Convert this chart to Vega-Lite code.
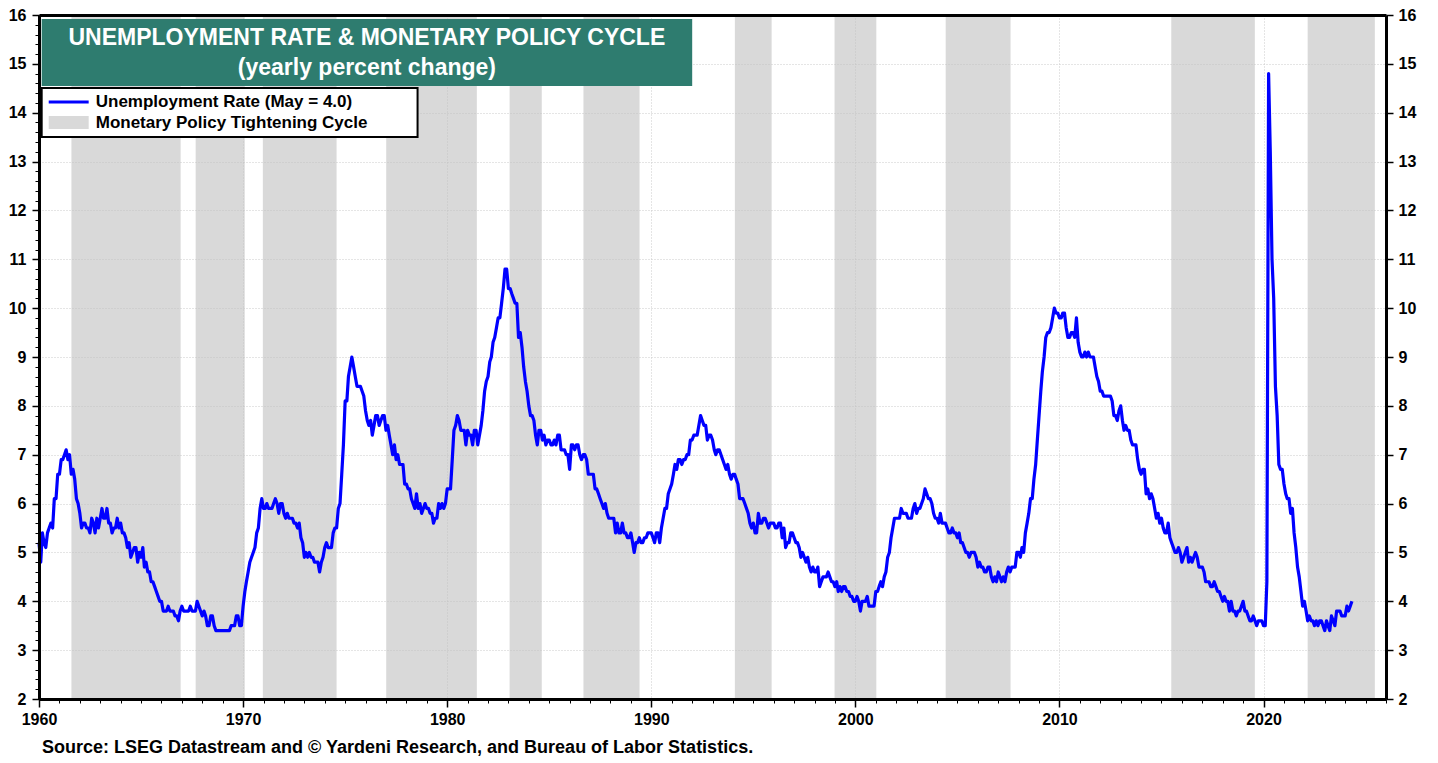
{
  "$schema": "https://vega.github.io/schema/vega-lite/v6.json",
  "width": 1347,
  "height": 684,
  "autosize": {"type": "none"},
  "padding": {"left": 39, "top": 15, "right": 52, "bottom": 64},
  "background": "white",
  "title": {"text": "Source: LSEG Datastream and © Yardeni Research, and Bureau of Labor Statistics.", "orient": "bottom", "anchor": "start", "frame": "group", "font": "Liberation Sans", "fontSize": 18, "fontWeight": "bold", "color": "black", "offset": 12, "dx": 3},
  "config": {
    "view": {"stroke": null},
    "axis": {"labelFont": "Liberation Sans", "labelFontSize": 16, "labelFontWeight": "bold", "labelColor": "black", "tickColor": "black", "domainColor": "black", "domainWidth": 3, "title": null, "gridColor": "#cacaca", "gridDash": [1, 2], "gridWidth": 1}
  },
  "datasets": {
    "cycles": [
      {"start": "1961-08-03", "end": "1966-12-10"},
      {"start": "1967-09-05", "end": "1970-01-30"},
      {"start": "1970-12-20", "end": "1974-08-01"},
      {"start": "1977-01-05", "end": "1981-06-15"},
      {"start": "1983-01-22", "end": "1984-08-20"},
      {"start": "1986-09-05", "end": "1989-06-05"},
      {"start": "1994-02-05", "end": "1995-11-25"},
      {"start": "1998-12-25", "end": "2001-01-10"},
      {"start": "2004-06-05", "end": "2007-08-10"},
      {"start": "2015-06-25", "end": "2019-07-30"},
      {"start": "2022-03-01", "end": "2025-06-15"}
    ],
    "unrate": [
{"date":"1960-01","rate":5.2},{"date":"1960-02","rate":4.8},{"date":"1960-03","rate":5.4},{"date":"1960-04","rate":5.2},{"date":"1960-05","rate":5.1},{"date":"1960-06","rate":5.4},{"date":"1960-07","rate":5.5},{"date":"1960-08","rate":5.6},{"date":"1960-09","rate":5.5},{"date":"1960-10","rate":6.1},{"date":"1960-11","rate":6.1},{"date":"1960-12","rate":6.6},
{"date":"1961-01","rate":6.6},{"date":"1961-02","rate":6.9},{"date":"1961-03","rate":6.9},{"date":"1961-04","rate":7.0},{"date":"1961-05","rate":7.1},{"date":"1961-06","rate":6.9},{"date":"1961-07","rate":7.0},{"date":"1961-08","rate":6.6},{"date":"1961-09","rate":6.7},{"date":"1961-10","rate":6.5},{"date":"1961-11","rate":6.1},{"date":"1961-12","rate":6.0},
{"date":"1962-01","rate":5.8},{"date":"1962-02","rate":5.5},{"date":"1962-03","rate":5.6},{"date":"1962-04","rate":5.6},{"date":"1962-05","rate":5.5},{"date":"1962-06","rate":5.5},{"date":"1962-07","rate":5.4},{"date":"1962-08","rate":5.7},{"date":"1962-09","rate":5.6},{"date":"1962-10","rate":5.4},{"date":"1962-11","rate":5.7},{"date":"1962-12","rate":5.5},
{"date":"1963-01","rate":5.7},{"date":"1963-02","rate":5.9},{"date":"1963-03","rate":5.7},{"date":"1963-04","rate":5.7},{"date":"1963-05","rate":5.9},{"date":"1963-06","rate":5.6},{"date":"1963-07","rate":5.6},{"date":"1963-08","rate":5.4},{"date":"1963-09","rate":5.5},{"date":"1963-10","rate":5.5},{"date":"1963-11","rate":5.7},{"date":"1963-12","rate":5.5},
{"date":"1964-01","rate":5.6},{"date":"1964-02","rate":5.4},{"date":"1964-03","rate":5.4},{"date":"1964-04","rate":5.3},{"date":"1964-05","rate":5.1},{"date":"1964-06","rate":5.2},{"date":"1964-07","rate":4.9},{"date":"1964-08","rate":5.0},{"date":"1964-09","rate":5.1},{"date":"1964-10","rate":5.1},{"date":"1964-11","rate":4.8},{"date":"1964-12","rate":5.0},
{"date":"1965-01","rate":4.9},{"date":"1965-02","rate":5.1},{"date":"1965-03","rate":4.7},{"date":"1965-04","rate":4.8},{"date":"1965-05","rate":4.6},{"date":"1965-06","rate":4.6},{"date":"1965-07","rate":4.4},{"date":"1965-08","rate":4.4},{"date":"1965-09","rate":4.3},{"date":"1965-10","rate":4.2},{"date":"1965-11","rate":4.1},{"date":"1965-12","rate":4.0},
{"date":"1966-01","rate":4.0},{"date":"1966-02","rate":3.8},{"date":"1966-03","rate":3.8},{"date":"1966-04","rate":3.8},{"date":"1966-05","rate":3.9},{"date":"1966-06","rate":3.8},{"date":"1966-07","rate":3.8},{"date":"1966-08","rate":3.8},{"date":"1966-09","rate":3.7},{"date":"1966-10","rate":3.7},{"date":"1966-11","rate":3.6},{"date":"1966-12","rate":3.8},
{"date":"1967-01","rate":3.9},{"date":"1967-02","rate":3.8},{"date":"1967-03","rate":3.8},{"date":"1967-04","rate":3.8},{"date":"1967-05","rate":3.8},{"date":"1967-06","rate":3.9},{"date":"1967-07","rate":3.8},{"date":"1967-08","rate":3.8},{"date":"1967-09","rate":3.8},{"date":"1967-10","rate":4.0},{"date":"1967-11","rate":3.9},{"date":"1967-12","rate":3.8},
{"date":"1968-01","rate":3.7},{"date":"1968-02","rate":3.8},{"date":"1968-03","rate":3.7},{"date":"1968-04","rate":3.5},{"date":"1968-05","rate":3.5},{"date":"1968-06","rate":3.7},{"date":"1968-07","rate":3.7},{"date":"1968-08","rate":3.5},{"date":"1968-09","rate":3.4},{"date":"1968-10","rate":3.4},{"date":"1968-11","rate":3.4},{"date":"1968-12","rate":3.4},
{"date":"1969-01","rate":3.4},{"date":"1969-02","rate":3.4},{"date":"1969-03","rate":3.4},{"date":"1969-04","rate":3.4},{"date":"1969-05","rate":3.4},{"date":"1969-06","rate":3.5},{"date":"1969-07","rate":3.5},{"date":"1969-08","rate":3.5},{"date":"1969-09","rate":3.7},{"date":"1969-10","rate":3.7},{"date":"1969-11","rate":3.5},{"date":"1969-12","rate":3.5},
{"date":"1970-01","rate":3.9},{"date":"1970-02","rate":4.2},{"date":"1970-03","rate":4.4},{"date":"1970-04","rate":4.6},{"date":"1970-05","rate":4.8},{"date":"1970-06","rate":4.9},{"date":"1970-07","rate":5.0},{"date":"1970-08","rate":5.1},{"date":"1970-09","rate":5.4},{"date":"1970-10","rate":5.5},{"date":"1970-11","rate":5.9},{"date":"1970-12","rate":6.1},
{"date":"1971-01","rate":5.9},{"date":"1971-02","rate":5.9},{"date":"1971-03","rate":6.0},{"date":"1971-04","rate":5.9},{"date":"1971-05","rate":5.9},{"date":"1971-06","rate":5.9},{"date":"1971-07","rate":6.0},{"date":"1971-08","rate":6.1},{"date":"1971-09","rate":6.0},{"date":"1971-10","rate":5.8},{"date":"1971-11","rate":6.0},{"date":"1971-12","rate":6.0},
{"date":"1972-01","rate":5.8},{"date":"1972-02","rate":5.7},{"date":"1972-03","rate":5.8},{"date":"1972-04","rate":5.7},{"date":"1972-05","rate":5.7},{"date":"1972-06","rate":5.7},{"date":"1972-07","rate":5.6},{"date":"1972-08","rate":5.6},{"date":"1972-09","rate":5.5},{"date":"1972-10","rate":5.6},{"date":"1972-11","rate":5.3},{"date":"1972-12","rate":5.2},
{"date":"1973-01","rate":4.9},{"date":"1973-02","rate":5.0},{"date":"1973-03","rate":4.9},{"date":"1973-04","rate":5.0},{"date":"1973-05","rate":4.9},{"date":"1973-06","rate":4.9},{"date":"1973-07","rate":4.8},{"date":"1973-08","rate":4.8},{"date":"1973-09","rate":4.8},{"date":"1973-10","rate":4.6},{"date":"1973-11","rate":4.8},{"date":"1973-12","rate":4.9},
{"date":"1974-01","rate":5.1},{"date":"1974-02","rate":5.2},{"date":"1974-03","rate":5.1},{"date":"1974-04","rate":5.1},{"date":"1974-05","rate":5.1},{"date":"1974-06","rate":5.4},{"date":"1974-07","rate":5.5},{"date":"1974-08","rate":5.5},{"date":"1974-09","rate":5.9},{"date":"1974-10","rate":6.0},{"date":"1974-11","rate":6.6},{"date":"1974-12","rate":7.2},
{"date":"1975-01","rate":8.1},{"date":"1975-02","rate":8.1},{"date":"1975-03","rate":8.6},{"date":"1975-04","rate":8.8},{"date":"1975-05","rate":9.0},{"date":"1975-06","rate":8.8},{"date":"1975-07","rate":8.6},{"date":"1975-08","rate":8.4},{"date":"1975-09","rate":8.4},{"date":"1975-10","rate":8.4},{"date":"1975-11","rate":8.3},{"date":"1975-12","rate":8.2},
{"date":"1976-01","rate":7.9},{"date":"1976-02","rate":7.7},{"date":"1976-03","rate":7.6},{"date":"1976-04","rate":7.7},{"date":"1976-05","rate":7.4},{"date":"1976-06","rate":7.6},{"date":"1976-07","rate":7.8},{"date":"1976-08","rate":7.8},{"date":"1976-09","rate":7.6},{"date":"1976-10","rate":7.7},{"date":"1976-11","rate":7.8},{"date":"1976-12","rate":7.8},
{"date":"1977-01","rate":7.5},{"date":"1977-02","rate":7.6},{"date":"1977-03","rate":7.4},{"date":"1977-04","rate":7.2},{"date":"1977-05","rate":7.0},{"date":"1977-06","rate":7.2},{"date":"1977-07","rate":6.9},{"date":"1977-08","rate":7.0},{"date":"1977-09","rate":6.8},{"date":"1977-10","rate":6.8},{"date":"1977-11","rate":6.8},{"date":"1977-12","rate":6.4},
{"date":"1978-01","rate":6.4},{"date":"1978-02","rate":6.3},{"date":"1978-03","rate":6.3},{"date":"1978-04","rate":6.1},{"date":"1978-05","rate":6.0},{"date":"1978-06","rate":5.9},{"date":"1978-07","rate":6.2},{"date":"1978-08","rate":5.9},{"date":"1978-09","rate":6.0},{"date":"1978-10","rate":5.8},{"date":"1978-11","rate":5.9},{"date":"1978-12","rate":6.0},
{"date":"1979-01","rate":5.9},{"date":"1979-02","rate":5.9},{"date":"1979-03","rate":5.8},{"date":"1979-04","rate":5.8},{"date":"1979-05","rate":5.6},{"date":"1979-06","rate":5.7},{"date":"1979-07","rate":5.7},{"date":"1979-08","rate":6.0},{"date":"1979-09","rate":5.9},{"date":"1979-10","rate":6.0},{"date":"1979-11","rate":5.9},{"date":"1979-12","rate":6.0},
{"date":"1980-01","rate":6.3},{"date":"1980-02","rate":6.3},{"date":"1980-03","rate":6.3},{"date":"1980-04","rate":6.9},{"date":"1980-05","rate":7.5},{"date":"1980-06","rate":7.6},{"date":"1980-07","rate":7.8},{"date":"1980-08","rate":7.7},{"date":"1980-09","rate":7.5},{"date":"1980-10","rate":7.5},{"date":"1980-11","rate":7.5},{"date":"1980-12","rate":7.2},
{"date":"1981-01","rate":7.5},{"date":"1981-02","rate":7.4},{"date":"1981-03","rate":7.4},{"date":"1981-04","rate":7.2},{"date":"1981-05","rate":7.5},{"date":"1981-06","rate":7.5},{"date":"1981-07","rate":7.2},{"date":"1981-08","rate":7.4},{"date":"1981-09","rate":7.6},{"date":"1981-10","rate":7.9},{"date":"1981-11","rate":8.3},{"date":"1981-12","rate":8.5},
{"date":"1982-01","rate":8.6},{"date":"1982-02","rate":8.9},{"date":"1982-03","rate":9.0},{"date":"1982-04","rate":9.3},{"date":"1982-05","rate":9.4},{"date":"1982-06","rate":9.6},{"date":"1982-07","rate":9.8},{"date":"1982-08","rate":9.8},{"date":"1982-09","rate":10.1},{"date":"1982-10","rate":10.4},{"date":"1982-11","rate":10.8},{"date":"1982-12","rate":10.8},
{"date":"1983-01","rate":10.4},{"date":"1983-02","rate":10.4},{"date":"1983-03","rate":10.3},{"date":"1983-04","rate":10.2},{"date":"1983-05","rate":10.1},{"date":"1983-06","rate":10.1},{"date":"1983-07","rate":9.4},{"date":"1983-08","rate":9.5},{"date":"1983-09","rate":9.2},{"date":"1983-10","rate":8.8},{"date":"1983-11","rate":8.5},{"date":"1983-12","rate":8.3},
{"date":"1984-01","rate":8.0},{"date":"1984-02","rate":7.8},{"date":"1984-03","rate":7.8},{"date":"1984-04","rate":7.7},{"date":"1984-05","rate":7.4},{"date":"1984-06","rate":7.2},{"date":"1984-07","rate":7.5},{"date":"1984-08","rate":7.5},{"date":"1984-09","rate":7.3},{"date":"1984-10","rate":7.4},{"date":"1984-11","rate":7.2},{"date":"1984-12","rate":7.3},
{"date":"1985-01","rate":7.3},{"date":"1985-02","rate":7.2},{"date":"1985-03","rate":7.2},{"date":"1985-04","rate":7.3},{"date":"1985-05","rate":7.2},{"date":"1985-06","rate":7.4},{"date":"1985-07","rate":7.4},{"date":"1985-08","rate":7.1},{"date":"1985-09","rate":7.1},{"date":"1985-10","rate":7.1},{"date":"1985-11","rate":7.0},{"date":"1985-12","rate":7.0},
{"date":"1986-01","rate":6.7},{"date":"1986-02","rate":7.2},{"date":"1986-03","rate":7.2},{"date":"1986-04","rate":7.1},{"date":"1986-05","rate":7.2},{"date":"1986-06","rate":7.2},{"date":"1986-07","rate":7.0},{"date":"1986-08","rate":6.9},{"date":"1986-09","rate":7.0},{"date":"1986-10","rate":7.0},{"date":"1986-11","rate":6.9},{"date":"1986-12","rate":6.6},
{"date":"1987-01","rate":6.6},{"date":"1987-02","rate":6.6},{"date":"1987-03","rate":6.6},{"date":"1987-04","rate":6.3},{"date":"1987-05","rate":6.3},{"date":"1987-06","rate":6.2},{"date":"1987-07","rate":6.1},{"date":"1987-08","rate":6.0},{"date":"1987-09","rate":5.9},{"date":"1987-10","rate":6.0},{"date":"1987-11","rate":5.8},{"date":"1987-12","rate":5.7},
{"date":"1988-01","rate":5.7},{"date":"1988-02","rate":5.7},{"date":"1988-03","rate":5.7},{"date":"1988-04","rate":5.4},{"date":"1988-05","rate":5.6},{"date":"1988-06","rate":5.4},{"date":"1988-07","rate":5.4},{"date":"1988-08","rate":5.6},{"date":"1988-09","rate":5.4},{"date":"1988-10","rate":5.4},{"date":"1988-11","rate":5.3},{"date":"1988-12","rate":5.3},
{"date":"1989-01","rate":5.4},{"date":"1989-02","rate":5.2},{"date":"1989-03","rate":5.0},{"date":"1989-04","rate":5.2},{"date":"1989-05","rate":5.2},{"date":"1989-06","rate":5.3},{"date":"1989-07","rate":5.2},{"date":"1989-08","rate":5.2},{"date":"1989-09","rate":5.3},{"date":"1989-10","rate":5.3},{"date":"1989-11","rate":5.4},{"date":"1989-12","rate":5.4},
{"date":"1990-01","rate":5.4},{"date":"1990-02","rate":5.3},{"date":"1990-03","rate":5.2},{"date":"1990-04","rate":5.4},{"date":"1990-05","rate":5.4},{"date":"1990-06","rate":5.2},{"date":"1990-07","rate":5.5},{"date":"1990-08","rate":5.7},{"date":"1990-09","rate":5.9},{"date":"1990-10","rate":5.9},{"date":"1990-11","rate":6.2},{"date":"1990-12","rate":6.3},
{"date":"1991-01","rate":6.4},{"date":"1991-02","rate":6.6},{"date":"1991-03","rate":6.8},{"date":"1991-04","rate":6.7},{"date":"1991-05","rate":6.9},{"date":"1991-06","rate":6.9},{"date":"1991-07","rate":6.8},{"date":"1991-08","rate":6.9},{"date":"1991-09","rate":6.9},{"date":"1991-10","rate":7.0},{"date":"1991-11","rate":7.0},{"date":"1991-12","rate":7.3},
{"date":"1992-01","rate":7.3},{"date":"1992-02","rate":7.4},{"date":"1992-03","rate":7.4},{"date":"1992-04","rate":7.4},{"date":"1992-05","rate":7.6},{"date":"1992-06","rate":7.8},{"date":"1992-07","rate":7.7},{"date":"1992-08","rate":7.6},{"date":"1992-09","rate":7.6},{"date":"1992-10","rate":7.3},{"date":"1992-11","rate":7.4},{"date":"1992-12","rate":7.4},
{"date":"1993-01","rate":7.3},{"date":"1993-02","rate":7.1},{"date":"1993-03","rate":7.0},{"date":"1993-04","rate":7.1},{"date":"1993-05","rate":7.1},{"date":"1993-06","rate":7.0},{"date":"1993-07","rate":6.9},{"date":"1993-08","rate":6.8},{"date":"1993-09","rate":6.7},{"date":"1993-10","rate":6.8},{"date":"1993-11","rate":6.6},{"date":"1993-12","rate":6.5},
{"date":"1994-01","rate":6.6},{"date":"1994-02","rate":6.6},{"date":"1994-03","rate":6.5},{"date":"1994-04","rate":6.4},{"date":"1994-05","rate":6.1},{"date":"1994-06","rate":6.1},{"date":"1994-07","rate":6.1},{"date":"1994-08","rate":6.0},{"date":"1994-09","rate":5.9},{"date":"1994-10","rate":5.8},{"date":"1994-11","rate":5.6},{"date":"1994-12","rate":5.5},
{"date":"1995-01","rate":5.6},{"date":"1995-02","rate":5.4},{"date":"1995-03","rate":5.4},{"date":"1995-04","rate":5.8},{"date":"1995-05","rate":5.6},{"date":"1995-06","rate":5.6},{"date":"1995-07","rate":5.7},{"date":"1995-08","rate":5.7},{"date":"1995-09","rate":5.6},{"date":"1995-10","rate":5.5},{"date":"1995-11","rate":5.6},{"date":"1995-12","rate":5.6},
{"date":"1996-01","rate":5.6},{"date":"1996-02","rate":5.5},{"date":"1996-03","rate":5.5},{"date":"1996-04","rate":5.6},{"date":"1996-05","rate":5.6},{"date":"1996-06","rate":5.3},{"date":"1996-07","rate":5.5},{"date":"1996-08","rate":5.1},{"date":"1996-09","rate":5.2},{"date":"1996-10","rate":5.2},{"date":"1996-11","rate":5.4},{"date":"1996-12","rate":5.4},
{"date":"1997-01","rate":5.3},{"date":"1997-02","rate":5.2},{"date":"1997-03","rate":5.2},{"date":"1997-04","rate":5.1},{"date":"1997-05","rate":4.9},{"date":"1997-06","rate":5.0},{"date":"1997-07","rate":4.9},{"date":"1997-08","rate":4.8},{"date":"1997-09","rate":4.9},{"date":"1997-10","rate":4.7},{"date":"1997-11","rate":4.6},{"date":"1997-12","rate":4.7},
{"date":"1998-01","rate":4.6},{"date":"1998-02","rate":4.6},{"date":"1998-03","rate":4.7},{"date":"1998-04","rate":4.3},{"date":"1998-05","rate":4.4},{"date":"1998-06","rate":4.5},{"date":"1998-07","rate":4.5},{"date":"1998-08","rate":4.5},{"date":"1998-09","rate":4.6},{"date":"1998-10","rate":4.5},{"date":"1998-11","rate":4.4},{"date":"1998-12","rate":4.4},
{"date":"1999-01","rate":4.3},{"date":"1999-02","rate":4.4},{"date":"1999-03","rate":4.2},{"date":"1999-04","rate":4.3},{"date":"1999-05","rate":4.2},{"date":"1999-06","rate":4.3},{"date":"1999-07","rate":4.3},{"date":"1999-08","rate":4.2},{"date":"1999-09","rate":4.2},{"date":"1999-10","rate":4.1},{"date":"1999-11","rate":4.1},{"date":"1999-12","rate":4.0},
{"date":"2000-01","rate":4.0},{"date":"2000-02","rate":4.1},{"date":"2000-03","rate":4.0},{"date":"2000-04","rate":3.8},{"date":"2000-05","rate":4.0},{"date":"2000-06","rate":4.0},{"date":"2000-07","rate":4.0},{"date":"2000-08","rate":4.1},{"date":"2000-09","rate":3.9},{"date":"2000-10","rate":3.9},{"date":"2000-11","rate":3.9},{"date":"2000-12","rate":3.9},
{"date":"2001-01","rate":4.2},{"date":"2001-02","rate":4.2},{"date":"2001-03","rate":4.3},{"date":"2001-04","rate":4.4},{"date":"2001-05","rate":4.3},{"date":"2001-06","rate":4.5},{"date":"2001-07","rate":4.6},{"date":"2001-08","rate":4.9},{"date":"2001-09","rate":5.0},{"date":"2001-10","rate":5.3},{"date":"2001-11","rate":5.5},{"date":"2001-12","rate":5.7},
{"date":"2002-01","rate":5.7},{"date":"2002-02","rate":5.7},{"date":"2002-03","rate":5.7},{"date":"2002-04","rate":5.9},{"date":"2002-05","rate":5.8},{"date":"2002-06","rate":5.8},{"date":"2002-07","rate":5.8},{"date":"2002-08","rate":5.7},{"date":"2002-09","rate":5.7},{"date":"2002-10","rate":5.7},{"date":"2002-11","rate":5.9},{"date":"2002-12","rate":6.0},
{"date":"2003-01","rate":5.8},{"date":"2003-02","rate":5.9},{"date":"2003-03","rate":5.9},{"date":"2003-04","rate":6.0},{"date":"2003-05","rate":6.1},{"date":"2003-06","rate":6.3},{"date":"2003-07","rate":6.2},{"date":"2003-08","rate":6.1},{"date":"2003-09","rate":6.1},{"date":"2003-10","rate":6.0},{"date":"2003-11","rate":5.8},{"date":"2003-12","rate":5.7},
{"date":"2004-01","rate":5.7},{"date":"2004-02","rate":5.6},{"date":"2004-03","rate":5.8},{"date":"2004-04","rate":5.6},{"date":"2004-05","rate":5.6},{"date":"2004-06","rate":5.6},{"date":"2004-07","rate":5.5},{"date":"2004-08","rate":5.4},{"date":"2004-09","rate":5.4},{"date":"2004-10","rate":5.5},{"date":"2004-11","rate":5.4},{"date":"2004-12","rate":5.4},
{"date":"2005-01","rate":5.3},{"date":"2005-02","rate":5.4},{"date":"2005-03","rate":5.2},{"date":"2005-04","rate":5.2},{"date":"2005-05","rate":5.1},{"date":"2005-06","rate":5.0},{"date":"2005-07","rate":5.0},{"date":"2005-08","rate":4.9},{"date":"2005-09","rate":5.0},{"date":"2005-10","rate":5.0},{"date":"2005-11","rate":5.0},{"date":"2005-12","rate":4.9},
{"date":"2006-01","rate":4.7},{"date":"2006-02","rate":4.8},{"date":"2006-03","rate":4.7},{"date":"2006-04","rate":4.7},{"date":"2006-05","rate":4.6},{"date":"2006-06","rate":4.6},{"date":"2006-07","rate":4.7},{"date":"2006-08","rate":4.7},{"date":"2006-09","rate":4.5},{"date":"2006-10","rate":4.4},{"date":"2006-11","rate":4.5},{"date":"2006-12","rate":4.4},
{"date":"2007-01","rate":4.6},{"date":"2007-02","rate":4.5},{"date":"2007-03","rate":4.4},{"date":"2007-04","rate":4.5},{"date":"2007-05","rate":4.4},{"date":"2007-06","rate":4.6},{"date":"2007-07","rate":4.7},{"date":"2007-08","rate":4.6},{"date":"2007-09","rate":4.7},{"date":"2007-10","rate":4.7},{"date":"2007-11","rate":4.7},{"date":"2007-12","rate":5.0},
{"date":"2008-01","rate":5.0},{"date":"2008-02","rate":4.9},{"date":"2008-03","rate":5.1},{"date":"2008-04","rate":5.0},{"date":"2008-05","rate":5.4},{"date":"2008-06","rate":5.6},{"date":"2008-07","rate":5.8},{"date":"2008-08","rate":6.1},{"date":"2008-09","rate":6.1},{"date":"2008-10","rate":6.5},{"date":"2008-11","rate":6.8},{"date":"2008-12","rate":7.3},
{"date":"2009-01","rate":7.8},{"date":"2009-02","rate":8.3},{"date":"2009-03","rate":8.7},{"date":"2009-04","rate":9.0},{"date":"2009-05","rate":9.4},{"date":"2009-06","rate":9.5},{"date":"2009-07","rate":9.5},{"date":"2009-08","rate":9.6},{"date":"2009-09","rate":9.8},{"date":"2009-10","rate":10.0},{"date":"2009-11","rate":9.9},{"date":"2009-12","rate":9.9},
{"date":"2010-01","rate":9.8},{"date":"2010-02","rate":9.8},{"date":"2010-03","rate":9.9},{"date":"2010-04","rate":9.9},{"date":"2010-05","rate":9.6},{"date":"2010-06","rate":9.4},{"date":"2010-07","rate":9.4},{"date":"2010-08","rate":9.5},{"date":"2010-09","rate":9.5},{"date":"2010-10","rate":9.4},{"date":"2010-11","rate":9.8},{"date":"2010-12","rate":9.3},
{"date":"2011-01","rate":9.1},{"date":"2011-02","rate":9.0},{"date":"2011-03","rate":9.0},{"date":"2011-04","rate":9.1},{"date":"2011-05","rate":9.0},{"date":"2011-06","rate":9.1},{"date":"2011-07","rate":9.0},{"date":"2011-08","rate":9.0},{"date":"2011-09","rate":9.0},{"date":"2011-10","rate":8.8},{"date":"2011-11","rate":8.6},{"date":"2011-12","rate":8.5},
{"date":"2012-01","rate":8.3},{"date":"2012-02","rate":8.3},{"date":"2012-03","rate":8.2},{"date":"2012-04","rate":8.2},{"date":"2012-05","rate":8.2},{"date":"2012-06","rate":8.2},{"date":"2012-07","rate":8.2},{"date":"2012-08","rate":8.1},{"date":"2012-09","rate":7.8},{"date":"2012-10","rate":7.8},{"date":"2012-11","rate":7.7},{"date":"2012-12","rate":7.9},
{"date":"2013-01","rate":8.0},{"date":"2013-02","rate":7.7},{"date":"2013-03","rate":7.5},{"date":"2013-04","rate":7.6},{"date":"2013-05","rate":7.5},{"date":"2013-06","rate":7.5},{"date":"2013-07","rate":7.3},{"date":"2013-08","rate":7.2},{"date":"2013-09","rate":7.2},{"date":"2013-10","rate":7.2},{"date":"2013-11","rate":6.9},{"date":"2013-12","rate":6.7},
{"date":"2014-01","rate":6.6},{"date":"2014-02","rate":6.7},{"date":"2014-03","rate":6.7},{"date":"2014-04","rate":6.2},{"date":"2014-05","rate":6.3},{"date":"2014-06","rate":6.1},{"date":"2014-07","rate":6.2},{"date":"2014-08","rate":6.1},{"date":"2014-09","rate":5.9},{"date":"2014-10","rate":5.7},{"date":"2014-11","rate":5.8},{"date":"2014-12","rate":5.6},
{"date":"2015-01","rate":5.7},{"date":"2015-02","rate":5.5},{"date":"2015-03","rate":5.4},{"date":"2015-04","rate":5.4},{"date":"2015-05","rate":5.6},{"date":"2015-06","rate":5.3},{"date":"2015-07","rate":5.2},{"date":"2015-08","rate":5.1},{"date":"2015-09","rate":5.0},{"date":"2015-10","rate":5.0},{"date":"2015-11","rate":5.1},{"date":"2015-12","rate":5.0},
{"date":"2016-01","rate":4.8},{"date":"2016-02","rate":4.9},{"date":"2016-03","rate":5.0},{"date":"2016-04","rate":5.1},{"date":"2016-05","rate":4.8},{"date":"2016-06","rate":4.9},{"date":"2016-07","rate":4.8},{"date":"2016-08","rate":4.9},{"date":"2016-09","rate":5.0},{"date":"2016-10","rate":4.9},{"date":"2016-11","rate":4.7},{"date":"2016-12","rate":4.7},
{"date":"2017-01","rate":4.7},{"date":"2017-02","rate":4.6},{"date":"2017-03","rate":4.4},{"date":"2017-04","rate":4.4},{"date":"2017-05","rate":4.4},{"date":"2017-06","rate":4.3},{"date":"2017-07","rate":4.3},{"date":"2017-08","rate":4.4},{"date":"2017-09","rate":4.3},{"date":"2017-10","rate":4.2},{"date":"2017-11","rate":4.2},{"date":"2017-12","rate":4.1},
{"date":"2018-01","rate":4.0},{"date":"2018-02","rate":4.1},{"date":"2018-03","rate":4.0},{"date":"2018-04","rate":4.0},{"date":"2018-05","rate":3.8},{"date":"2018-06","rate":4.0},{"date":"2018-07","rate":3.8},{"date":"2018-08","rate":3.8},{"date":"2018-09","rate":3.7},{"date":"2018-10","rate":3.8},{"date":"2018-11","rate":3.8},{"date":"2018-12","rate":3.9},
{"date":"2019-01","rate":4.0},{"date":"2019-02","rate":3.8},{"date":"2019-03","rate":3.8},{"date":"2019-04","rate":3.7},{"date":"2019-05","rate":3.6},{"date":"2019-06","rate":3.6},{"date":"2019-07","rate":3.7},{"date":"2019-08","rate":3.6},{"date":"2019-09","rate":3.5},{"date":"2019-10","rate":3.6},{"date":"2019-11","rate":3.6},{"date":"2019-12","rate":3.6},
{"date":"2020-01","rate":3.5},{"date":"2020-02","rate":3.5},{"date":"2020-03","rate":4.4},{"date":"2020-04","rate":14.8},{"date":"2020-05","rate":13.2},{"date":"2020-06","rate":11.0},{"date":"2020-07","rate":10.2},{"date":"2020-08","rate":8.4},{"date":"2020-09","rate":7.8},{"date":"2020-10","rate":6.8},{"date":"2020-11","rate":6.7},{"date":"2020-12","rate":6.7},
{"date":"2021-01","rate":6.4},{"date":"2021-02","rate":6.2},{"date":"2021-03","rate":6.1},{"date":"2021-04","rate":6.1},{"date":"2021-05","rate":5.8},{"date":"2021-06","rate":5.9},{"date":"2021-07","rate":5.4},{"date":"2021-08","rate":5.1},{"date":"2021-09","rate":4.7},{"date":"2021-10","rate":4.5},{"date":"2021-11","rate":4.2},{"date":"2021-12","rate":3.9},
{"date":"2022-01","rate":4.0},{"date":"2022-02","rate":3.8},{"date":"2022-03","rate":3.6},{"date":"2022-04","rate":3.7},{"date":"2022-05","rate":3.6},{"date":"2022-06","rate":3.6},{"date":"2022-07","rate":3.5},{"date":"2022-08","rate":3.6},{"date":"2022-09","rate":3.5},{"date":"2022-10","rate":3.6},{"date":"2022-11","rate":3.6},{"date":"2022-12","rate":3.5},
{"date":"2023-01","rate":3.4},{"date":"2023-02","rate":3.6},{"date":"2023-03","rate":3.5},{"date":"2023-04","rate":3.4},{"date":"2023-05","rate":3.7},{"date":"2023-06","rate":3.6},{"date":"2023-07","rate":3.5},{"date":"2023-08","rate":3.8},{"date":"2023-09","rate":3.8},{"date":"2023-10","rate":3.8},{"date":"2023-11","rate":3.7},{"date":"2023-12","rate":3.7},
{"date":"2024-01","rate":3.7},{"date":"2024-02","rate":3.9},{"date":"2024-03","rate":3.8},{"date":"2024-04","rate":3.9},{"date":"2024-05","rate":4.0}
    ]
  },
  "resolve": {"axis": {"x": "independent", "y": "independent"}},
  "layer": [
    {
      "data": {"name": "cycles"},
      "mark": {"type": "rect", "color": "#bfbfbf", "opacity": 0.6},
      "encoding": {
        "x": {"field": "start", "type": "temporal", "scale": {"type": "utc", "domain": [{"year": 1960, "month": 1, "date": 1, "utc": true}, {"year": 2026, "month": 1, "date": 1, "utc": true}]},
          "axis": {"orient": "bottom", "format": "%Y", "tickCount": 7, "tickSize": 8, "tickWidth": 1.5, "labelPadding": 4, "grid": false, "domain": true, "zindex": 1, "labelFlush": false, "labelOverlap": false}},
        "x2": {"field": "end"}
      }
    },
    {
      "data": {"values": [{}]},
      "mark": {"type": "rect", "color": "#2e7c6f"},
      "encoding": {
        "x": {"datum": {"year": 1960, "month": 2, "date": 18, "utc": true}, "type": "temporal",
          "axis": {"orient": "top", "ticks": false, "labels": false, "grid": false, "domain": true, "zindex": 1}},
        "x2": {"datum": {"year": 1992, "month": 1, "date": 3, "utc": true}},
        "y": {"datum": 15.918, "type": "quantitative", "scale": {"domain": [2, 16], "nice": false, "zero": false},
          "axis": {"orient": "right", "values": [2,3,4,5,6,7,8,9,10,11,12,13,14,15,16], "tickSize": 7, "tickWidth": 1.5, "labelPadding": 5, "grid": false, "domain": true, "zindex": 1, "labelFlush": false, "labelOverlap": false}},
        "y2": {"datum": 14.547}
      }
    },
    {
      "data": {"values": [{}]},
      "mark": {"type": "text", "text": ["UNEMPLOYMENT RATE & MONETARY POLICY CYCLE", "(yearly percent change)"], "lineHeight": 30, "font": "Liberation Sans", "fontSize": 23, "fontWeight": "bold", "color": "white", "align": "center", "baseline": "alphabetic"},
      "encoding": {
        "x": {"datum": {"year": 1976, "month": 1, "date": 25, "utc": true}, "type": "temporal", "axis": null},
        "y": {"datum": 15.386, "type": "quantitative", "scale": {"domain": [2, 16], "nice": false, "zero": false},
          "axis": {"orient": "left", "tickCount": 70, "tickSize": 4, "labels": false, "grid": false, "domain": false, "zindex": 1}}
      }
    },
    {
      "data": {"values": [{}]},
      "mark": {"type": "rect", "fill": "white", "stroke": "black", "strokeWidth": 2},
      "encoding": {
        "x": {"datum": {"year": 1960, "month": 2, "date": 18, "utc": true}, "type": "temporal",
          "axis": {"orient": "bottom", "tickCount": 7, "ticks": false, "labels": false, "domain": false, "grid": true, "zindex": 0}},
        "x2": {"datum": {"year": 1978, "month": 7, "date": 20, "utc": true}},
        "y": {"datum": 14.506, "type": "quantitative", "scale": {"domain": [2, 16], "nice": false, "zero": false},
          "axis": {"orient": "left", "values": [2,3,4,5,6,7,8,9,10,11,12,13,14,15,16], "ticks": false, "labels": false, "domain": false, "grid": true, "zindex": 0}},
        "y2": {"datum": 13.503}
      }
    },
    {
      "data": {"values": [{}]},
      "mark": {"type": "rule", "color": "#0000ff", "strokeWidth": 3},
      "encoding": {
        "x": {"datum": {"year": 1960, "month": 6, "date": 23, "utc": true}, "type": "temporal", "axis": null},
        "x2": {"datum": {"year": 1962, "month": 6, "date": 8, "utc": true}},
        "y": {"datum": 14.219, "type": "quantitative", "scale": {"domain": [2, 16], "nice": false, "zero": false}, "axis": null}
      }
    },
    {
      "data": {"values": [{}]},
      "mark": {"type": "rect", "color": "#d9d9d9"},
      "encoding": {
        "x": {"datum": {"year": 1960, "month": 6, "date": 23, "utc": true}, "type": "temporal", "axis": null},
        "x2": {"datum": {"year": 1962, "month": 6, "date": 8, "utc": true}},
        "y": {"datum": 13.933, "type": "quantitative", "scale": {"domain": [2, 16], "nice": false, "zero": false}, "axis": null},
        "y2": {"datum": 13.667}
      }
    },
    {
      "data": {"values": [{}]},
      "mark": {"type": "text", "text": "Unemployment Rate (May  = 4.0)", "font": "Liberation Sans", "fontSize": 17, "fontWeight": "bold", "color": "black", "align": "left", "baseline": "alphabetic"},
      "encoding": {
        "x": {"datum": {"year": 1962, "month": 10, "date": 12, "utc": true}, "type": "temporal", "axis": null},
        "y": {"datum": 14.117, "type": "quantitative", "scale": {"domain": [2, 16], "nice": false, "zero": false}, "axis": null}
      }
    },
    {
      "data": {"values": [{}]},
      "mark": {"type": "text", "text": "Monetary Policy Tightening Cycle", "font": "Liberation Sans", "fontSize": 17, "fontWeight": "bold", "color": "black", "align": "left", "baseline": "alphabetic"},
      "encoding": {
        "x": {"datum": {"year": 1962, "month": 10, "date": 12, "utc": true}, "type": "temporal", "axis": null},
        "y": {"datum": 13.677, "type": "quantitative", "scale": {"domain": [2, 16], "nice": false, "zero": false}, "axis": null}
      }
    },
    {
      "data": {"name": "unrate"},
      "mark": {"type": "line", "strokeWidth": 3.2, "strokeJoin": "round"},
      "encoding": {
        "x": {"field": "date", "type": "temporal",
          "axis": {"orient": "bottom", "tickCount": 66, "tickSize": 4, "labels": false, "grid": false, "domain": false, "zindex": 1}},
        "y": {"field": "rate", "type": "quantitative", "scale": {"domain": [2, 16], "nice": false, "zero": false},
          "axis": {"orient": "left", "values": [2,3,4,5,6,7,8,9,10,11,12,13,14,15,16], "tickSize": 7, "tickWidth": 1.5, "labelPadding": 6, "grid": false, "domain": true, "zindex": 1, "labelFlush": false, "labelOverlap": false}},
        "color": {"value": "#0000ff"}
      }
    }
  ]
}
